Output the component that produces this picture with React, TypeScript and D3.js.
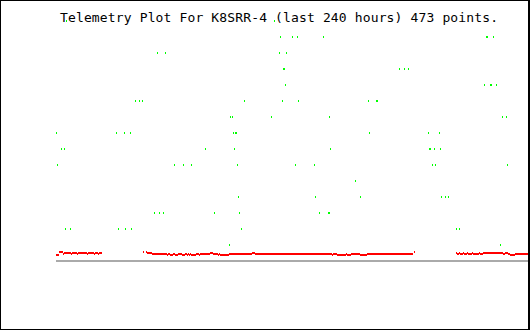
import React from "react";
import * as d3 from "d3";

// ---- data (hours since start of window, values) ----
const TITLE = "Telemetry Plot For K8SRR-4 (last 240 hours) 473 points.";

// green channel: discrete levels and the hours at which each level was reported
const greenLevels = [15, 14, 13, 12, 11, 10, 9, 8, 7, 6, 5, 4, 3, 2, 1];
const greenHours: number[][] = [
  [5, 109],
  [112, 118, 120.5, 133.5, 215, 215.5, 218.5],
  [50.5, 54.5, 111.5, 115],
  [113.5, 114, 171.5, 174, 176],
  [114.5, 214, 217, 217.5, 220],
  [39.5, 41.5, 43, 94, 113, 121, 156, 160, 160.5],
  [87, 88, 107.5, 136.5, 223, 225],
  [0, 30, 34, 37, 88.5, 89.5, 90, 156.5, 186, 191.5],
  [2.5, 4, 74.5, 89, 137, 186.5, 187, 189, 192],
  [0.5, 59, 63.5, 67.5, 90.5, 119.5, 129, 188, 189.5, 225.5],
  [149.5],
  [91, 129.5, 152, 192.5, 194.5, 196],
  [49, 51.5, 53.5, 79, 91.5, 131.5, 136, 136.5],
  [4.5, 7, 31, 34.5, 37.5, 92.5, 200, 201.5],
  [86.5, 222],
];

// red channel: runs of consecutive samples at the same reading (start hour, end hour, volts)
const redStart = [
  0, 1.5, 3.5, 4, 7.5, 8, 10.5, 11, 15.5, 16, 19, 19.5, 21, 21.5,
  43.5, 45, 45.5, 48, 55.5, 56, 57, 58.5, 59.5, 61, 63, 64.5, 65.5, 66, 66.5, 67, 67.5, 70, 71.5, 72,
  77, 78.5, 81, 81.5, 82, 86.5, 98, 99.5, 138, 138.5, 140.5, 145, 145.5, 147.5, 152, 155.5, 179,
  200, 200.5, 201.5, 202, 203.5, 204, 205.5, 206, 208, 208.5, 211.5, 212, 213.5, 223.5, 224.5, 226,
  227, 229.5,
];
const redEnd = [
  1, 3, 3.5, 7, 7.5, 10, 10.5, 15, 15.5, 18.5, 19, 20.5, 21, 22.5,
  43.5, 45, 47.5, 55, 55.5, 56.5, 58, 59, 60.5, 62.5, 64, 65, 65.5, 66, 66.5, 67, 69.5, 71, 71.5, 76.5,
  78, 80.5, 81, 81.5, 86, 97.5, 99, 137.5, 138, 140, 144.5, 145, 147, 151.5, 155, 178, 179,
  200, 201, 201.5, 203, 203.5, 205, 205.5, 207.5, 208, 211, 211.5, 213, 223, 224, 225.5, 226.5,
  229, 236,
];
const redVolts = [
  13.4, 13.7, 13.5, 13.6, 13.5, 13.6, 13.5, 13.6, 13.5, 13.6, 13.5, 13.6, 13.5, 13.6,
  13.7, 13.7, 13.6, 13.5, 13.4, 13.5, 13.4, 13.5, 13.4, 13.5, 13.4, 13.5, 13.4, 13.5, 13.4, 13.5, 13.4, 13.5, 13.4, 13.5,
  13.6, 13.5, 13.4, 13.5, 13.4, 13.5, 13.6, 13.5, 13.4, 13.5, 13.4, 13.5, 13.4, 13.5, 13.4, 13.5, 13.7,
  13.6, 13.5, 13.6, 13.5, 13.6, 13.5, 13.6, 13.5, 13.6, 13.5, 13.6, 13.5, 13.6, 13.5, 13.6, 13.5,
  13.4, 13.5,
];

const W = 530;
const H = 330;

export default function App() {
  const x = d3.scaleLinear().domain([0, 237]).range([56, 530]);
  const yGreen = d3.scaleLinear().domain([0, 15]).range([260, 20]);
  const yRed = d3.scaleLinear().domain([12.8, 13.7]).range([260, 251]);
  const px = (v: number) => Math.round(v);

  const greenPts: { t: number; v: number }[] = [];
  greenLevels.forEach((lv, i) => greenHours[i].forEach((t) => greenPts.push({ t, v: lv })));

  return (
    <svg
      width={W}
      height={H}
      style={{ position: "fixed", left: 0, top: 0, display: "block", background: "#fff" }}
      shapeRendering="crispEdges"
    >
      <rect x={0} y={0} width={W} height={H} fill="#fff" />
      {/* baseline */}
      <rect x={px(x(0))} y={260} width={528 - px(x(0))} height={2} fill="#aaaaaa" />
      {/* red runs */}
      {redStart.map((s, i) => (
        <rect
          key={"r" + i}
          x={px(x(s))}
          y={px(yRed(redVolts[i]))}
          width={px(x(redEnd[i])) - px(x(s)) + 1}
          height={2}
          fill="#ff0000"
        />
      ))}
      <text
        x={60}
        y={22}
        fontFamily="'DejaVu Sans Mono', monospace"
        fontSize={13}
        fill="#000"
        textLength={438}
        lengthAdjust="spacing"
        style={{ whiteSpace: "pre" }}
      >
        {TITLE}
      </text>
      {/* green points */}
      {greenPts.map((p, i) => (
        <rect key={"g" + i} x={px(x(p.t))} y={px(yGreen(p.v))} width={1} height={2} fill="#00ff00" />
      ))}
      {/* frame */}
      <rect x={0} y={0} width={W} height={1} fill="#000" />
      <rect x={0} y={0} width={1} height={H} fill="#000" />
      <rect x={0} y={H - 1} width={W} height={1} fill="#000" />
      <rect x={W - 2} y={0} width={2} height={H} fill="#000" />
    </svg>
  );
}
